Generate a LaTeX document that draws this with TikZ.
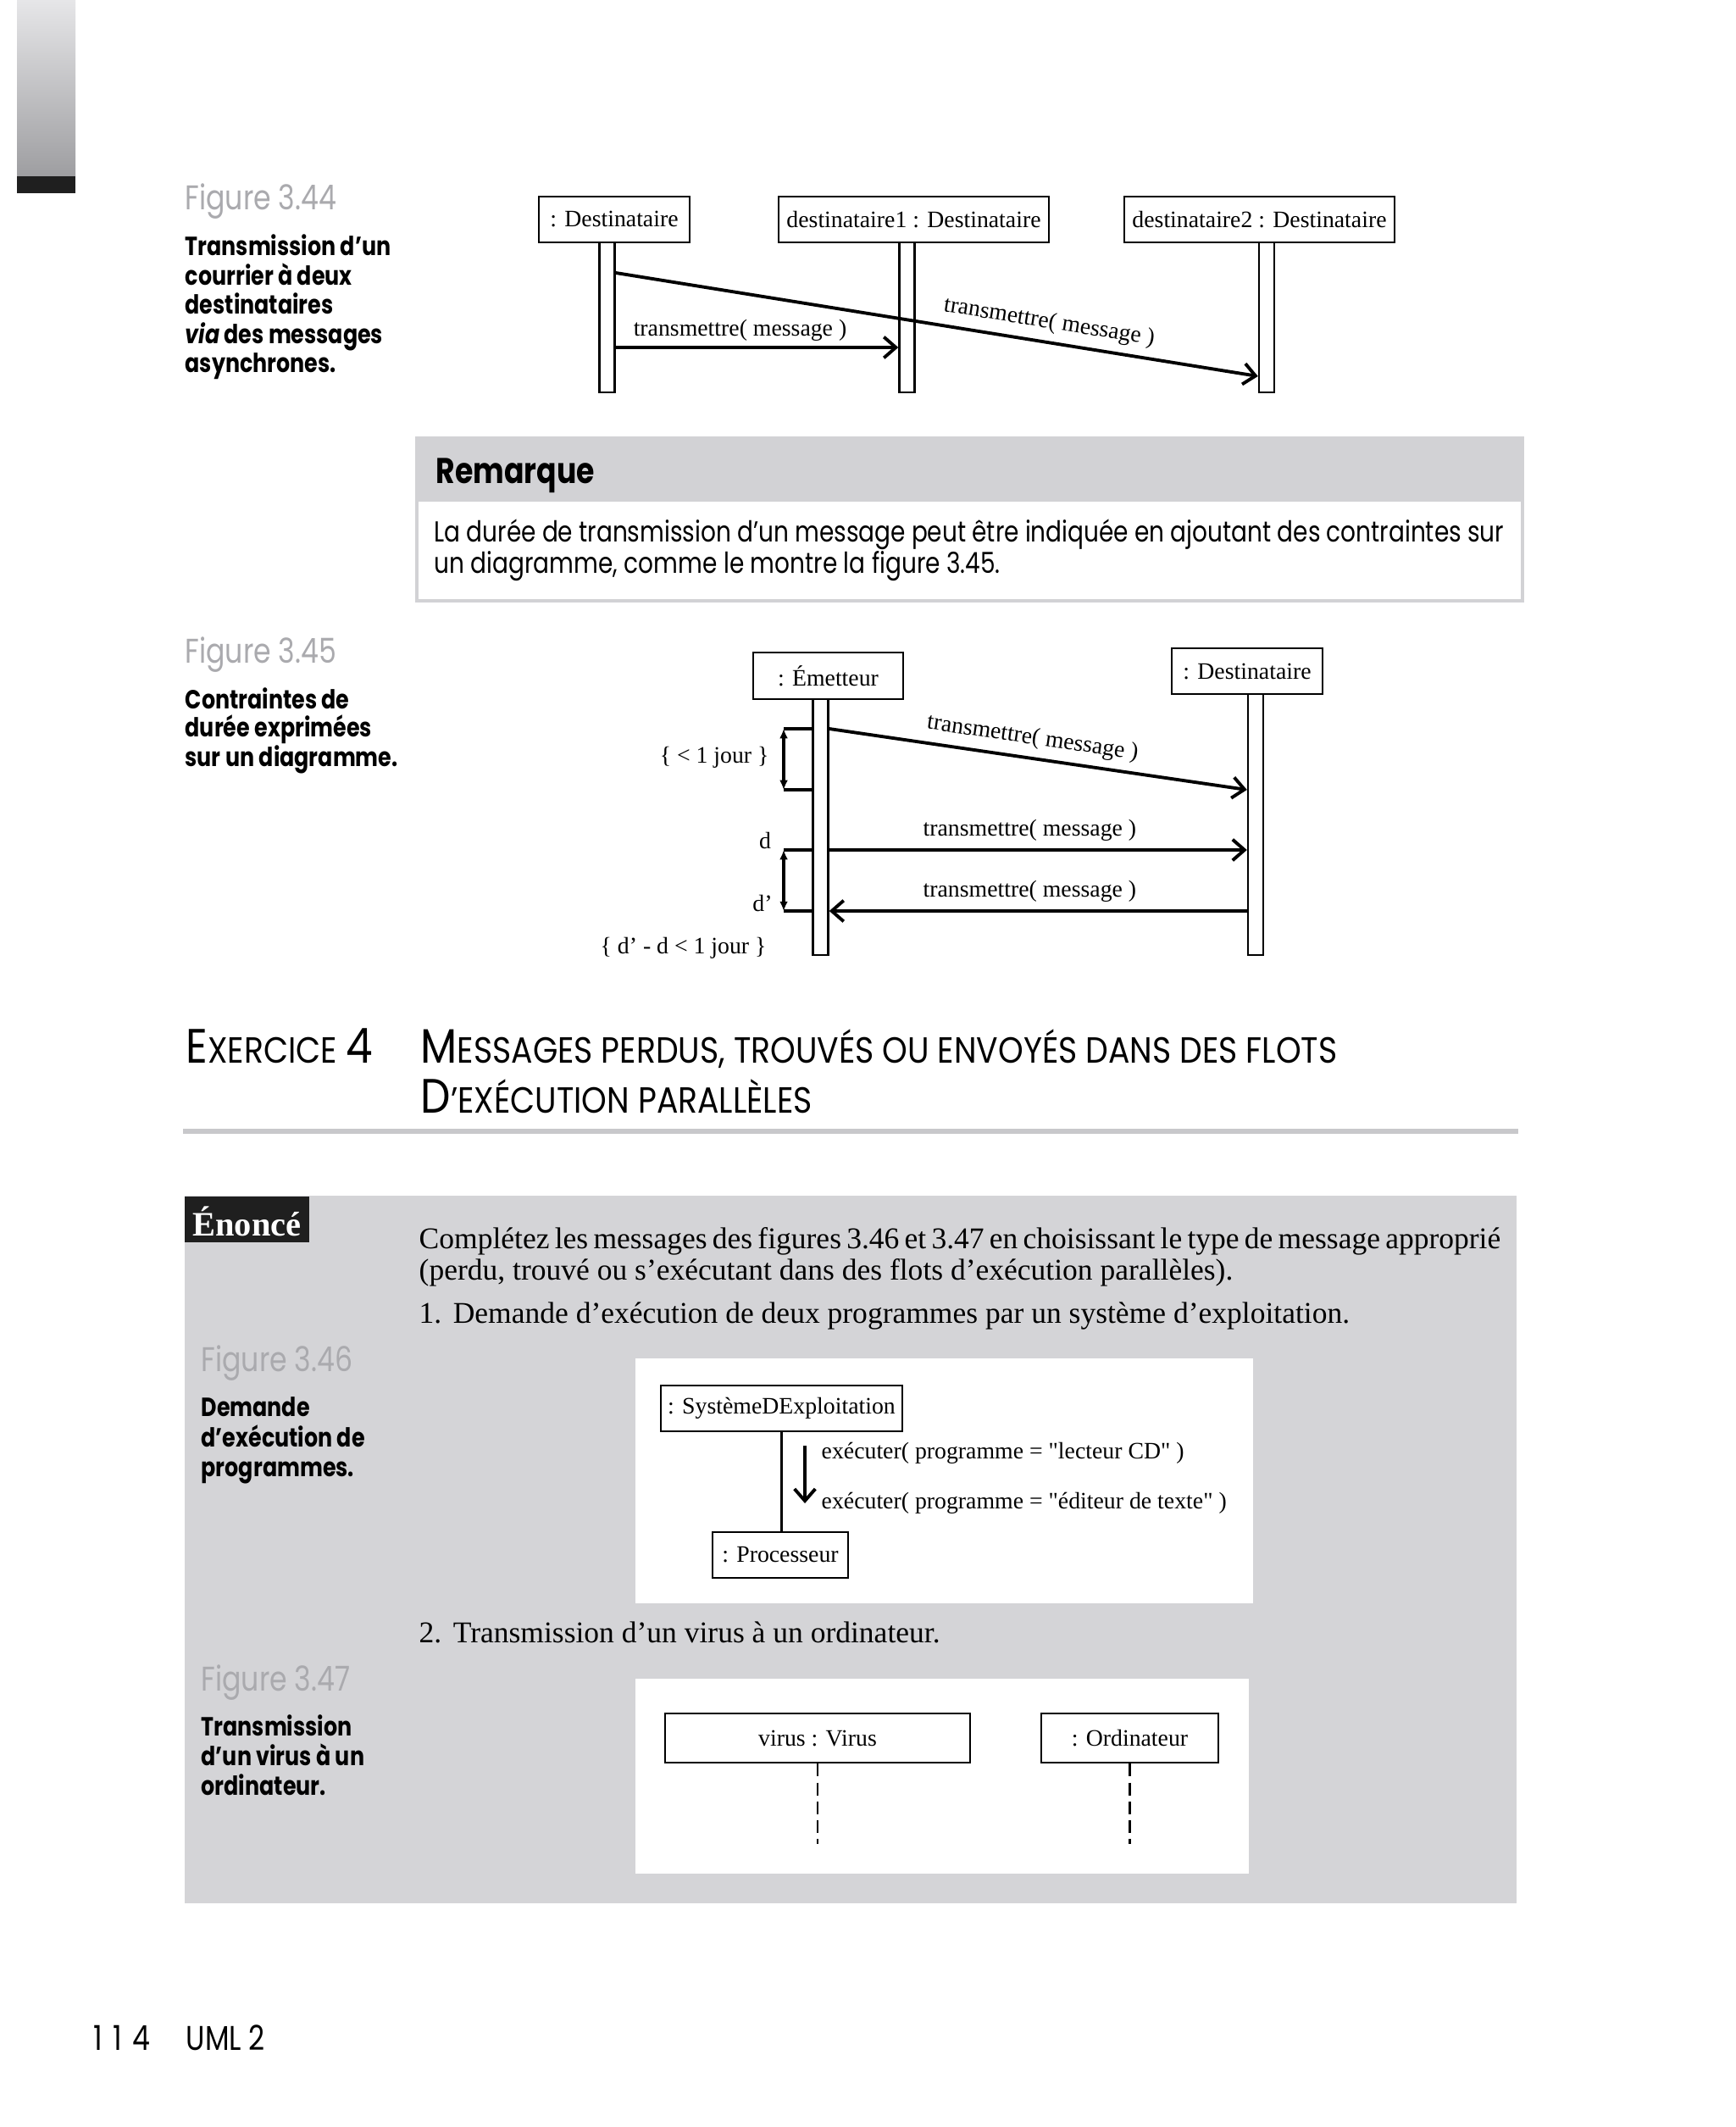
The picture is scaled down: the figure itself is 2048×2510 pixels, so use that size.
\documentclass[tikz,border=0pt]{standalone}
\usepackage{fontspec}
\setmainfont{Liberation Serif}
\newfontfamily\fut[FakeStretch=0.82]{Poppins}
\newfontfamily\futh[FakeStretch=0.88]{Poppins}
\usetikzlibrary{arrows.meta}
\definecolor{figgrey}{RGB}{170,170,174}
\definecolor{remgrey}{RGB}{210,210,213}
\definecolor{enogrey}{RGB}{212,212,215}
\definecolor{rulegrey}{RGB}{200,200,203}
\newcommand\diafont{\fontsize{7.9}{9}\selectfont}
\newcommand\bigc[1]{{\fontsize{16.2}{18}\selectfont #1}}
\begin{document}
\begin{tikzpicture}[x=0.01cm,y=-0.01cm,
  obj/.style={draw, line width=0.75pt, fill=white, inner sep=0pt, font=\diafont},
  lbar/.style={draw, line width=0.7pt, fill=white, minimum width=0.18cm, inner sep=0pt},
  msg/.style={line width=1.1pt, -{Straight Barb[length=4pt,width=7pt]}},
  dur/.style={line width=1pt, {Latex[length=3.2pt,width=2.8pt]}-{Latex[length=3.2pt,width=2.8pt]}},
  tickl/.style={line width=1pt},
  mlab/.style={font=\diafont, inner sep=2.5pt},
  figlab/.style={font=\fut\fontsize{11.5}{13}\selectfont, text=figgrey, anchor=base west, inner sep=0pt},
  caplab/.style={font=\fut\bfseries\fontsize{8.8}{10}\selectfont, anchor=base west, inner sep=0pt},
  futtxt/.style={font=\fut\fontsize{9.7}{12}\selectfont, anchor=base west, inner sep=0pt},
  sertxt/.style={font=\fontsize{10.1}{12}\selectfont, anchor=base west, inner sep=0pt},
  headtxt/.style={font=\futh\fontsize{12.2}{14}\selectfont, anchor=base west, inner sep=0pt},
  whitebox/.style={fill=white, draw=none}
]
\useasboundingbox (0,0) rectangle (2048,2510);
\fill[white] (0,0) rectangle (2048,2510);

% left tab
\shade[top color={rgb,255:red,230;green,230;blue,232}, bottom color={rgb,255:red,158;green,158;blue,161}] (20,0) rectangle (89,208);
\fill[black!88] (20,208) rectangle (89,228);

% ---------- Figure 3.44 ----------
\node[figlab] (f44) at (218,248) {Figure 3.44};
\node[caplab] (c44a) at (218,302) {Transmission d’un};
\node[caplab] (c44b) at (218,337) {courrier à deux};
\node[caplab] (c44c) at (218,371) {destinataires};
\node[caplab] (c44d) at (218,406) {\textit{via} des messages};
\node[caplab] (c44e) at (218,440) {asynchrones.};

\node[obj, minimum width=1.78cm, minimum height=0.54cm] (a1) at (725,259) {: Destinataire};
\node[obj, minimum width=3.19cm, minimum height=0.54cm] (a2) at (1078.5,259) {destinataire1 : Destinataire};
\node[obj, minimum width=3.19cm, minimum height=0.54cm] (a3) at (1486.5,259) {destinataire2 : Destinataire};
\node[lbar, minimum height=1.77cm] (ab1) at (716.5,374.5) {};
\node[lbar, minimum height=1.77cm] (ab2) at (1070.5,374.5) {};
\node[lbar, minimum height=1.77cm] (ab3) at (1495,374.5) {};
\coordinate (y322) at (0,322);
\coordinate (y444) at (0,444);
\coordinate (y410) at (0,410);
\draw[msg] (ab1.east |- y322) -- node[mlab, pos=0.67, above, sloped] (l44a) {transmettre( message )} (ab3.west |- y444);
\draw[msg] (ab1.east |- y410) -- node[mlab, pos=0.44, above, inner sep=1.5pt] (l44b) {transmettre( message )} (ab2.west |- y410);

% ---------- Remarque ----------
\fill[remgrey] (492,517) rectangle (1797,592);
\draw[remgrey, line width=0.9pt] (492,517) rectangle (1797,709);
\node[anchor=base west, inner sep=0pt, font=\fut\bfseries\fontsize{12}{14}\selectfont] (rem) at (514,571) {Remarque};
\node[futtxt] (rem1) at (512,640) {\makebox[359pt][s]{La durée de transmission d’un message peut être indiquée en ajoutant des contraintes sur}};
\node[futtxt] (rem2) at (512,677) {un diagramme, comme le montre la figure 3.45.};

% ---------- Figure 3.45 ----------
\node[figlab] (f45) at (218,782) {Figure 3.45};
\node[caplab] (c45a) at (218,836) {Contraintes de};
\node[caplab] (c45b) at (218,869) {durée exprimées};
\node[caplab] (c45c) at (218,904) {sur un diagramme.};

\node[obj, minimum width=1.77cm, minimum height=0.55cm] (e1) at (977.5,797.5) {: Émetteur};
\node[obj, minimum width=1.78cm, minimum height=0.54cm] (e2) at (1472,792) {: Destinataire};
\node[lbar, minimum height=3.02cm] (eb1) at (968.5,976) {};
\node[lbar, minimum height=3.08cm] (eb2) at (1482,973) {};
\coordinate (y860) at (0,860);
\coordinate (y932) at (0,932);
\coordinate (y1003) at (0,1003);
\coordinate (y1075) at (0,1075);
\draw[msg] (eb1.east |- y860) -- node[mlab, pos=0.48, above, sloped] (l45a) {transmettre( message )} (eb2.west |- y932);
\draw[msg] (eb1.east |- y1003) -- node[mlab, pos=0.48, above] (l45b) {transmettre( message )} (eb2.west |- y1003);
\draw[msg] (eb2.west |- y1075) -- node[mlab, pos=0.52, above] (l45c) {transmettre( message )} (eb1.east |- y1075);
\coordinate (t1) at (925,860);
\coordinate (t2) at (925,932);
\coordinate (t3) at (925,1003);
\coordinate (t4) at (925,1075);
\draw[tickl] (t1) -- (eb1.west |- t1);
\draw[tickl] (t2) -- (eb1.west |- t2);
\draw[tickl] (t3) -- (eb1.west |- t3);
\draw[tickl] (t4) -- (eb1.west |- t4);
\draw[dur] (t1) -- (t2);
\draw[dur] (t3) -- (t4);
\node[mlab, anchor=east] (k1) at (917,894) {\{ < 1 jour \}};
\node[mlab] (k2) at (903,992) {d};
\node[mlab] (k3) at (900,1066) {d’};
\node[mlab, anchor=east] (k4) at (914,1119) {\{ d’ - d < 1 jour \}};

% ---------- Exercice 4 ----------
\node[headtxt] (exn) at (219,1254) {\bigc{E}XERCICE \bigc{4}};
\node[headtxt] (ext1) at (496,1254) {\bigc{M}ESSAGES PERDUS, TROUVÉS OU ENVOYÉS DANS DES FLOTS};
\node[headtxt] (ext2) at (496,1313) {\bigc{D}’EXÉCUTION PARALLÈLES};
\fill[rulegrey] (216,1332) rectangle (1792,1338);

% ---------- Enonce ----------
\fill[enogrey] (218,1411) rectangle (1790,2246);
\fill[black!88] (218,1412) rectangle (365,1466);
\node[anchor=base, inner sep=0pt, text=white, font=\bfseries\fontsize{11.5}{13}\selectfont] (eno) at (291.5,1458) {Énoncé};
\node[sertxt] (p1) at (494,1473) {\makebox[363pt][s]{Complétez les messages des figures 3.46 et 3.47 en choisissant le type de message approprié}};
\node[sertxt] (p2) at (494,1510) {(perdu, trouvé ou s’exécutant dans des flots d’exécution parallèles).};
\node[sertxt] (p3) at (494,1561) {\makebox[11.4pt][l]{1.}Demande d’exécution de deux programmes par un système d’exploitation.};

% Figure 3.46
\node[figlab] (f46) at (237,1618) {Figure 3.46};
\node[caplab] (c46a) at (237,1671) {Demande};
\node[caplab] (c46b) at (237,1707) {d’exécution de};
\node[caplab] (c46c) at (237,1742) {programmes.};
\fill[whitebox] (750,1603) rectangle (1479,1892);
\node[obj, minimum width=2.85cm, minimum height=0.54cm] (se) at (922.5,1662) {: SystèmeDExploitation};
\node[obj, minimum width=1.60cm, minimum height=0.54cm] (pr) at (921,1835) {: Processeur};
\draw[line width=0.7pt] (se.south) -- (se.south |- pr.north);
\coordinate (m1) at (950,1706);
\coordinate (m2) at (950,1774);
\draw[msg] (m1) -- (m2);
\node[mlab, anchor=base west, inner sep=0pt] (x1) at (969,1721) {exécuter( programme = \textquotedbl lecteur CD\textquotedbl\ )};
\node[mlab, anchor=base west, inner sep=0pt] (x2) at (969,1780) {exécuter( programme = \textquotedbl éditeur de texte\textquotedbl\ )};

% item 2
\node[sertxt] (p4) at (494,1938) {\makebox[11.4pt][l]{2.}Transmission d’un virus à un ordinateur.};

% Figure 3.47
\node[figlab] (f47) at (237,1995) {Figure 3.47};
\node[caplab] (c47a) at (237,2048) {Transmission};
\node[caplab] (c47b) at (237,2083) {d’un virus à un};
\node[caplab] (c47c) at (237,2118) {ordinateur.};
\fill[whitebox] (750,1981) rectangle (1474,2211);
\node[obj, minimum width=3.60cm, minimum height=0.58cm] (vb) at (965,2051) {virus : Virus};
\node[obj, minimum width=2.09cm, minimum height=0.58cm] (ob) at (1333.5,2051) {: Ordinateur};
\coordinate (v1end) at (965,2176);
\coordinate (o1end) at (1333.5,2176);
\draw[line width=0.7pt, dash pattern=on 4.3pt off 2pt] (vb.south) -- (v1end);
\draw[line width=0.7pt, dash pattern=on 4.3pt off 2pt] (ob.south) -- (o1end);

% footer
\node[anchor=base west, inner sep=0pt, font=\fut\fontsize{11.5}{13}\selectfont] (pg) at (110,2419) {1\hspace{3.5pt}1\hspace{3.5pt}4};
\node[anchor=base west, inner sep=0pt, font=\fut\fontsize{11.5}{13}\selectfont] (uml) at (219,2419) {UML 2};
\end{tikzpicture}
\end{document}
